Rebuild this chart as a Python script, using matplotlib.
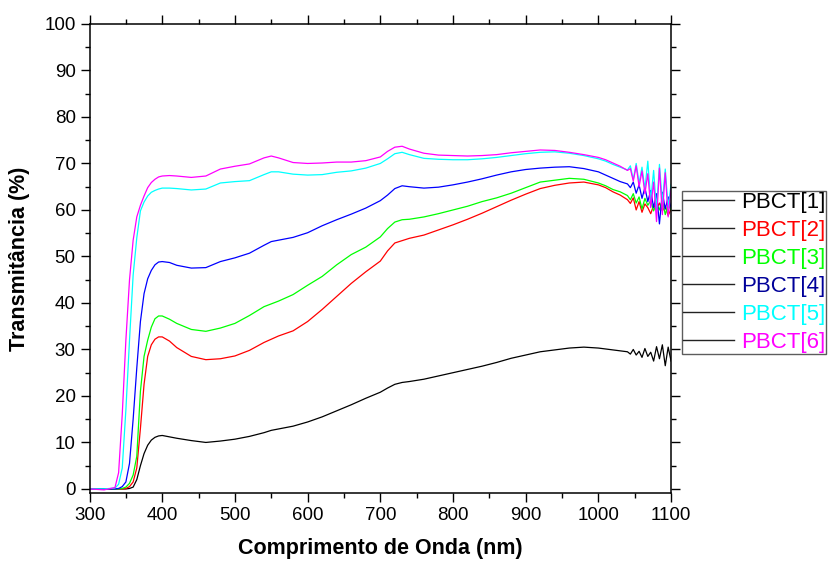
import matplotlib
matplotlib.use('Agg')
import matplotlib.pyplot as plt
from matplotlib.ticker import MultipleLocator

plt.rcParams['font.family'] = ['Liberation Sans', 'DejaVu Sans']

# wavelength grid (nm)
wavelength = [300, 320, 335, 340, 345, 350, 355, 360, 365, 370, 375, 380, 385, 390, 395, 400,
              410, 420, 440, 460, 480, 500, 520, 540, 550, 560, 580, 600, 620, 640, 660, 680,
              700, 710, 720, 730, 740, 760, 780, 800, 820, 840, 860, 880, 900, 920, 940, 960,
              980, 1000, 1010, 1020, 1030, 1040,
              1044, 1048, 1052, 1056, 1060, 1064, 1068, 1072, 1076, 1080, 1084, 1088, 1092, 1096, 1100]

pbct1 = [0, -0.1, 0, 0, 0, 0, 0.1, 0.4, 2.0, 5.0, 7.6, 9.4, 10.5, 11.1, 11.4, 11.5,
         11.2, 10.9, 10.4, 10.0, 10.3, 10.7, 11.3, 12.1, 12.6, 12.9, 13.5, 14.4, 15.5, 16.8, 18.1, 19.5,
         20.8, 21.7, 22.5, 22.9, 23.1, 23.6, 24.3, 25.0, 25.7, 26.4, 27.2, 28.1, 28.8, 29.5, 29.9, 30.3,
         30.5, 30.3, 30.1, 29.9, 29.7, 29.5,
         29.0, 30.0, 28.8, 29.6, 28.3, 30.2, 28.5, 29.4, 27.5, 30.6, 28.0, 31.0, 26.5, 30.5, 27.5]

pbct2 = [0, 0, 0, 0, 0, 0.1, 0.5, 1.5, 4.5, 13.0, 22.5, 28.5, 31.0, 32.2, 32.7, 32.7,
         31.8, 30.4, 28.5, 27.8, 28.0, 28.6, 29.8, 31.5, 32.2, 32.9, 34.0, 36.0, 38.6, 41.4, 44.2, 46.7,
         49.0, 51.2, 52.9, 53.4, 53.9, 54.6, 55.7, 56.8, 58.0, 59.3, 60.7, 62.1, 63.4, 64.6, 65.3, 65.8,
         66.0, 65.4, 64.8, 63.9, 63.2, 62.2,
         61.4, 62.6, 60.0, 61.8, 59.5, 61.3, 60.5, 59.2, 61.0, 60.3, 61.5, 59.8, 60.8, 58.8, 60.2]

pbct3 = [0, 0, 0, 0, 0.1, 0.4, 1.2, 3.0, 7.0, 21.0, 28.5, 32.0, 34.8, 36.6, 37.2, 37.2,
         36.5, 35.6, 34.3, 33.9, 34.6, 35.6, 37.3, 39.2, 39.8, 40.4, 41.8, 43.8, 45.7, 48.2, 50.4, 52.0,
         54.2, 56.0, 57.4, 57.9, 58.0, 58.5, 59.2, 60.0, 60.8, 61.8, 62.6, 63.6, 64.8, 66.0, 66.4, 66.8,
         66.6, 65.8, 65.2, 64.4, 63.9, 63.1,
         62.2, 63.5, 61.5, 62.8, 60.2, 62.5, 61.0, 62.0, 59.8, 61.4, 60.0, 62.2, 59.0, 61.2, 60.0]

pbct4 = [0, 0, 0, 0.1, 0.5, 1.5, 5.5, 15.0, 26.0, 36.0, 42.0, 45.2, 47.0, 48.2, 48.8, 48.9,
         48.7, 48.1, 47.5, 47.6, 48.9, 49.7, 50.7, 52.4, 53.2, 53.5, 54.1, 55.1, 56.6, 57.9, 59.1, 60.4,
         62.0, 63.2, 64.6, 65.2, 65.0, 64.7, 64.9, 65.4, 66.0, 66.7, 67.5, 68.2, 68.7, 69.0, 69.2, 69.3,
         68.9, 68.2, 67.5, 66.8, 66.1, 65.6,
         64.8, 66.0, 63.6, 65.4, 62.5, 64.8, 61.8, 64.2, 60.5, 63.5, 57.0, 63.8, 60.2, 62.8, 60.5]

pbct5 = [0, 0, 0.2, 1.0, 4.5, 17.0, 32.0, 46.0, 54.0, 59.8, 61.7, 63.0, 63.8, 64.2, 64.5, 64.7,
         64.7, 64.6, 64.3, 64.5, 65.8, 66.1, 66.3, 67.6, 68.2, 68.2, 67.7, 67.5, 67.6, 68.1, 68.4, 69.0,
         70.0, 71.0, 72.1, 72.4, 71.9, 71.1, 70.9, 70.8, 70.8, 71.0, 71.3, 71.7, 72.1, 72.4, 72.5, 72.2,
         71.7, 71.0, 70.5, 69.8, 69.2, 68.6,
         69.5, 66.5, 70.0, 65.8, 69.2, 64.5, 70.5, 62.0, 68.5, 60.0, 69.8, 61.5, 68.8, 60.5, 65.5]

pbct6 = [0, -0.2, 0.3, 3.5, 16.0, 32.0, 45.0, 53.5, 58.5, 61.0, 63.0, 64.8, 65.9, 66.6, 67.1, 67.3,
         67.4, 67.3, 67.0, 67.3, 68.8, 69.4, 69.9, 71.2, 71.6, 71.2, 70.2, 70.0, 70.1, 70.3, 70.3, 70.6,
         71.4, 72.6, 73.5, 73.7, 73.1, 72.2, 71.8, 71.7, 71.6, 71.7, 71.9, 72.3, 72.6, 72.9, 72.8, 72.4,
         71.9, 71.3, 70.8, 70.1, 69.4, 68.5,
         68.9, 66.2, 69.5, 65.0, 68.4, 63.5, 67.8, 60.5, 66.0, 57.5, 69.0, 59.0, 68.0, 58.5, 64.5]

labels = ['PBCT[1]', 'PBCT[2]', 'PBCT[3]', 'PBCT[4]', 'PBCT[5]', 'PBCT[6]']
line_colors = ['black', '#ff0000', '#00ff00', '#0000ff', '#00ffff', '#ff00ff']
text_colors = ['black', '#ff0000', '#00ff00', '#000099', '#00ffff', '#ff00ff']

fig = plt.figure(figsize=(8.29, 5.64), dpi=100)
ax = fig.add_axes([0.108, 0.126, 0.7015, 0.8315])

series = [pbct1, pbct2, pbct3, pbct4, pbct5, pbct6]
for ys, c in zip(series, line_colors):
    ax.plot(wavelength, ys, color=c, lw=0.9)

ax.set_xlim(300, 1100)
ax.set_ylim(-0.86, 100)
ax.xaxis.set_major_locator(MultipleLocator(100))
ax.xaxis.set_minor_locator(MultipleLocator(50))
ax.yaxis.set_major_locator(MultipleLocator(10))
ax.yaxis.set_minor_locator(MultipleLocator(5))
ax.tick_params(which='both', direction='out', top=True, right=True, width=1.0,
               labelsize=13.5, pad=3.5)
ax.tick_params(which='major', length=6.5)
ax.tick_params(which='minor', length=3.6)
for sp in ax.spines.values():
    sp.set_linewidth(1.1)

ax.set_xlabel('Comprimento de Onda (nm)', fontsize=15.5, fontweight='bold', labelpad=10)
ax.set_ylabel('Transmitância (%)', fontsize=15.5, fontweight='bold', labelpad=10)

# legend with black samples, coloured text
handles = [plt.Line2D([], [], color='#222222', lw=1.0) for _ in labels]
leg = ax.legend(handles, labels, loc='upper left', bbox_to_anchor=(682 / 829, 1 - 191 / 564),
                bbox_transform=fig.transFigure, fontsize=16, frameon=True, fancybox=False,
                borderpad=0.05, handlelength=2.3, handletextpad=0.3, labelspacing=0.31,
                borderaxespad=0)
leg.get_frame().set_edgecolor('#333333')
leg.get_frame().set_linewidth(1.0)
for t, c in zip(leg.get_texts(), text_colors):
    t.set_color(c)

fig.savefig('out.png', dpi=100)
